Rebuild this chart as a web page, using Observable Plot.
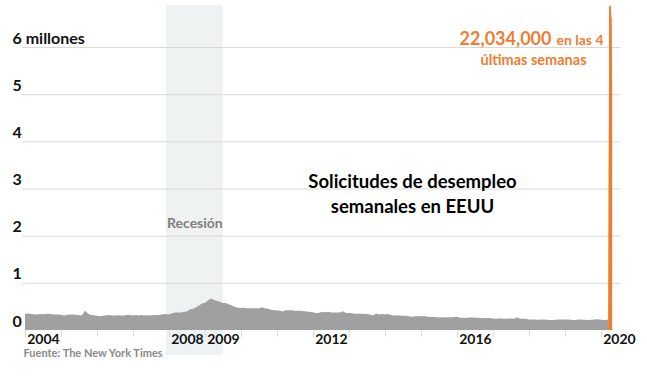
<!DOCTYPE html>
<html>
<head>
<meta charset="utf-8">
<script src="https://cdn.jsdelivr.net/npm/d3@7"></script>
<script src="https://cdn.jsdelivr.net/npm/@observablehq/plot@0.6"></script>
<style>
  html, body { margin: 0; padding: 0; background: #fff; }
  svg { display: block; }
</style>
</head>
<body>
<div id="chart"></div>
<script>
// Weekly initial jobless claims, US (millions), monthly readings 2004 – Feb 2020
const startYear = 2004;
const monthlyClaims = [
  // 2004
  0.345, 0.35, 0.34, 0.335, 0.33, 0.34, 0.335, 0.34, 0.345, 0.335, 0.33, 0.33,
  // 2005
  0.325, 0.31, 0.325, 0.33, 0.33, 0.325, 0.315, 0.315, 0.41, 0.35, 0.32, 0.315,
  // 2006
  0.3, 0.29, 0.3, 0.31, 0.32, 0.31, 0.31, 0.315, 0.31, 0.31, 0.32, 0.32,
  // 2007
  0.31, 0.32, 0.31, 0.32, 0.31, 0.315, 0.305, 0.32, 0.315, 0.325, 0.335, 0.34,
  // 2008
  0.33, 0.355, 0.37, 0.37, 0.37, 0.385, 0.39, 0.44, 0.45, 0.48, 0.52, 0.56,
  // 2009
  0.58, 0.63, 0.67, 0.64, 0.62, 0.6, 0.57, 0.57, 0.54, 0.52, 0.49, 0.47,
  // 2010
  0.47, 0.47, 0.46, 0.46, 0.46, 0.46, 0.46, 0.48, 0.46, 0.45, 0.43, 0.42,
  // 2011
  0.42, 0.41, 0.39, 0.42, 0.42, 0.42, 0.41, 0.41, 0.41, 0.4, 0.39, 0.38,
  // 2012
  0.375, 0.36, 0.365, 0.38, 0.375, 0.385, 0.37, 0.37, 0.37, 0.37, 0.4, 0.36,
  // 2013
  0.36, 0.355, 0.345, 0.345, 0.345, 0.345, 0.34, 0.33, 0.31, 0.35, 0.33, 0.34,
  // 2014
  0.33, 0.34, 0.32, 0.31, 0.31, 0.31, 0.3, 0.3, 0.29, 0.28, 0.29, 0.29,
  // 2015
  0.29, 0.295, 0.285, 0.275, 0.275, 0.275, 0.265, 0.27, 0.27, 0.265, 0.27, 0.275,
  // 2016
  0.28, 0.26, 0.26, 0.255, 0.265, 0.265, 0.26, 0.26, 0.255, 0.255, 0.25, 0.255,
  // 2017
  0.245, 0.24, 0.245, 0.245, 0.24, 0.245, 0.245, 0.24, 0.27, 0.24, 0.24, 0.24,
  // 2018
  0.225, 0.225, 0.225, 0.215, 0.22, 0.22, 0.215, 0.21, 0.21, 0.215, 0.225, 0.22,
  // 2019
  0.22, 0.225, 0.215, 0.205, 0.215, 0.22, 0.215, 0.215, 0.21, 0.215, 0.225, 0.23,
  // 2020
  0.215, 0.21
];
// Weekly readings, March–April 2020 (millions)
const weeklyDates2020 = ["2020-03-07", "2020-03-14", "2020-03-21", "2020-03-28", "2020-04-04", "2020-04-11"];
const weeklyClaims2020 = [0.211, 0.282, 3.307, 6.867, 6.615, 5.245];
const lastWeeksCount = 4;

const recession = [{start: "2007-12-01", end: "2009-06-30", label: "Recesión"}];
const yTicks = [0, 1, 2, 3, 4, 5, 6];
const yTickLabels = ["0", "1", "2", "3", "4", "5", "6 millones"];
const xLabelYears = [2004, 2008, 2009, 2012, 2016, 2020];
const xTickYears = d3.range(2004, 2021);
const title = "Solicitudes de desempleo\nsemanales en EEUU";
const annotationBig = "22,034,000";
const annotationSmall1 = "en las 4";
const annotationSmall2 = "últimas semanas";
const source = "Fuente: The New York Times";

const ORANGE = "#ed7d31";
const GRAY = "#a0a0a0";
const FONT = "Lato, 'Open Sans', sans-serif";

// build tables
const monthly = monthlyClaims.map((v, i) => ({date: new Date(startYear, i, 1), value: v}));
const weekly = weeklyDates2020.map((d, i) => ({date: new Date(d + "T00:00"), value: weeklyClaims2020[i]}));
const nW = weekly.length;
const grayData = monthly.concat(weekly.slice(0, nW - lastWeeksCount));
const orangeData = weekly.slice(nW - lastWeeksCount - 1);
const rec = recession.map(r => ({...r, start: new Date(r.start + "T00:00"), end: new Date(r.end + "T00:00")}));
rec.forEach(r => r.mid = new Date((+r.start + +r.end) / 2));

const chart = Plot.plot({
  width: 647,
  height: 378,
  marginLeft: 25,
  marginRight: 27,
  marginTop: 47,
  marginBottom: 48,
  style: {fontFamily: FONT, background: "#fff", overflow: "visible"},
  x: {type: "time", domain: [new Date(2004, 0, 1), new Date(2020, 6, 12)], axis: null},
  y: {domain: [0, 6], axis: null},
  marks: [
    Plot.rect(rec, {x1: "start", x2: "end", y1: 0, y2: 6, fill: "#eef2f3", insetTop: -42, insetBottom: -25}),
    Plot.ruleY(yTicks.filter(d => d > 0), {stroke: "#d9d9d9", strokeWidth: 1, insetLeft: -3}),
    Plot.axisX({ticks: xTickYears.map(y => new Date(y, 0, 1)), tickSize: 7, tickFormat: () => "", stroke: "#dedede"}),
    Plot.areaY(grayData, {x: "date", y: "value", fill: GRAY}),
    Plot.areaY(orangeData, {x: "date", y: "value", fill: ORANGE}),
    Plot.lineY(orangeData.slice(1), {x: "date", y: "value", stroke: ORANGE, strokeWidth: 1.5}),
    Plot.ruleX(orangeData.slice(1), {x: "date", y1: 0, y2: "value", stroke: ORANGE, strokeWidth: 1.5}),
    // y labels
    Plot.text(yTicks, {y: d => d, text: (d, i) => yTickLabels[i], frameAnchor: "left", textAnchor: "start",
      lineAnchor: "middle", dx: -13, dy: -9, fontSize: 16, fontWeight: "bold", fill: "#111"}),
    // x labels
    Plot.text(xLabelYears, {x: d => new Date(d, 6, 1), text: d => String(d), frameAnchor: "bottom",
      lineAnchor: "middle", dy: 9, fontSize: 14, fontWeight: "bold", fill: "#111"}),
    // recession label
    Plot.text(rec, {x: "mid", text: "label", frameAnchor: "top", lineAnchor: "middle", dy: 176,
      fontSize: 14, fontWeight: "bold", fill: "#808080"}),
    // title
    Plot.text([title], {text: d => d, frameAnchor: "top-left", textAnchor: "middle", lineAnchor: "middle",
      dx: 387, dy: 145, lineHeight: 1.33, fontSize: 18.5, fontWeight: "bold", fill: "#000"}),
    // annotation
    Plot.text([annotationBig], {text: d => d, frameAnchor: "top-right", textAnchor: "end", lineAnchor: "middle",
      dx: -69, dy: -8, fontSize: 18, fontWeight: "bold", fill: ORANGE}),
    Plot.text([annotationSmall1], {text: d => d, frameAnchor: "top-right", textAnchor: "start", lineAnchor: "middle",
      dx: -64, dy: -7, fontSize: 14, fontWeight: "bold", fill: ORANGE}),
    Plot.text([annotationSmall2], {text: d => d, frameAnchor: "top-right", textAnchor: "middle", lineAnchor: "middle",
      dx: -87, dy: 13, fontSize: 14.5, fontWeight: "bold", fill: ORANGE}),
    // source
    Plot.text([source], {text: d => d, frameAnchor: "bottom-left", textAnchor: "start", lineAnchor: "middle",
      dx: -2, dy: 23, fontSize: 11, fontWeight: "bold", fill: "#8a8a8a"})
  ]
});
document.getElementById("chart").appendChild(chart);
</script>
</body>
</html>
